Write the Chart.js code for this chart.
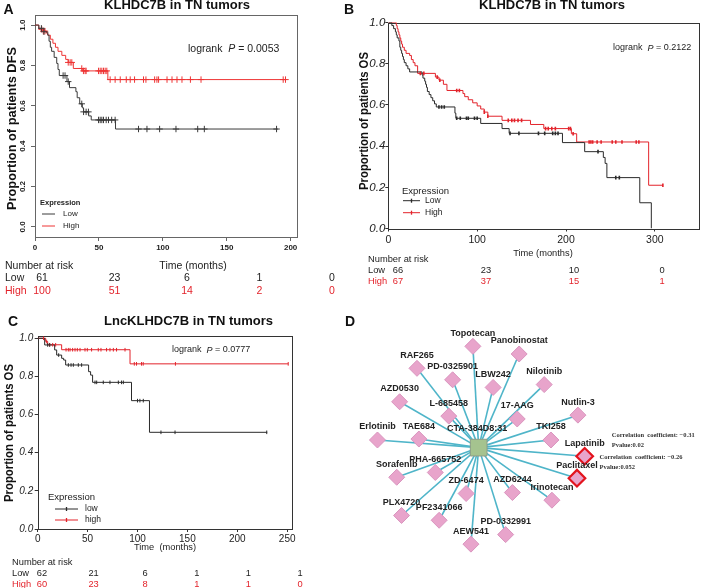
<!DOCTYPE html>
<html><head><meta charset="utf-8">
<script src="https://cdn.jsdelivr.net/npm/chart.js@4.4.1/dist/chart.umd.min.js"></script>
<style>
html,body{margin:0;padding:0;background:#fff;}
#wrap{position:relative;width:709px;height:588px;overflow:hidden;background:#fff;}
canvas{position:absolute;left:0;top:0;}
</style></head><body>
<div id="wrap">
<canvas id="cA" width="709" height="588"></canvas>
<canvas id="cB" width="709" height="588"></canvas>
<canvas id="cC" width="709" height="588"></canvas>
<canvas id="cD" width="709" height="588"></canvas>
</div>
<script>
// ================= DATA =================
// Panel A: KLHDC7B in TN tumors, DFS
const aLowTime  = [0, 3, 7, 10, 11, 12, 13, 15, 17, 18, 19, 25, 27, 32, 33, 35, 37, 38, 42, 44, 63, 190];
const aLowSurv  = [1, 0.984, 0.967, 0.95, 0.92, 0.89, 0.87, 0.84, 0.81, 0.78, 0.75, 0.72, 0.69, 0.67, 0.64, 0.61, 0.59, 0.57, 0.55, 0.53, 0.485, 0.485];
const aLowCens  = [5, 7, 22, 23.5, 26, 36.6, 38, 40, 41.8, 49.7, 51, 52.3, 53.6, 55.7, 57.5, 60, 62.7, 81, 87.6, 97.5, 110.3, 127.3, 132.5, 189];
const aHighTime = [0, 3, 6, 9, 10, 12, 14, 16, 18, 21, 24, 26, 30, 37, 57, 196];
const aHighSurv = [1, 0.98, 0.97, 0.96, 0.95, 0.93, 0.91, 0.89, 0.87, 0.85, 0.83, 0.815, 0.785, 0.773, 0.73, 0.73];
const aHighCens = [5.2, 6.5, 7.8, 26, 27.5, 28.8, 36.6, 37.9, 39.2, 40, 49.7, 51, 52.3, 53.6, 54.9, 56.2, 58.8, 62.7, 66.7, 71.4, 74.5, 77.9, 84.9, 86.8, 93.6, 95.4, 96.7, 103.3, 107.2, 111.1, 115, 121.6, 129.9, 194.2, 196];
const aXTicks = [0, 50, 100, 150, 200];
const aYTicks = [0, 0.2, 0.4, 0.6, 0.8, 1.0];
const aRiskLow  = [61, 23, 6, 1, 0];
const aRiskHigh = [100, 51, 14, 2, 0];
const aP = '0.0053';

// Panel B: KLHDC7B in TN tumors, OS
const bLowTime  = [0, 4, 6, 8, 9, 10, 12, 13, 14, 15, 16, 17, 18, 20, 22, 24, 38, 39, 41, 42, 43, 44, 46, 48, 50, 52, 54, 75, 76, 104, 128, 136, 196, 221, 242, 244, 246, 283, 296];
const bLowSurv  = [1, 0.985, 0.97, 0.955, 0.94, 0.925, 0.91, 0.88, 0.865, 0.85, 0.835, 0.82, 0.805, 0.79, 0.775, 0.76, 0.745, 0.73, 0.715, 0.70, 0.685, 0.665, 0.65, 0.635, 0.62, 0.605, 0.59, 0.56, 0.535, 0.51, 0.485, 0.462, 0.417, 0.373, 0.345, 0.316, 0.247, 0.125, 0];
const bLowCens  = [57, 60, 63, 77, 81, 88, 90, 97, 100, 137, 147, 169, 176, 185, 188, 191, 236, 256, 260];
const bHighTime = [0, 9, 10, 11, 12, 13, 14, 15, 16, 18, 20, 24, 26, 28, 30, 33, 53, 57, 62, 66, 84, 86, 90, 95, 100, 104, 108, 112, 128, 160, 175, 206, 212, 293, 309];
const bHighSurv = [1, 0.985, 0.97, 0.955, 0.94, 0.925, 0.91, 0.895, 0.88, 0.865, 0.85, 0.84, 0.82, 0.805, 0.79, 0.753, 0.735, 0.72, 0.70, 0.67, 0.655, 0.64, 0.625, 0.61, 0.595, 0.58, 0.565, 0.545, 0.525, 0.505, 0.485, 0.46, 0.42, 0.21, 0.21];
const bHighCens = [36, 40, 55, 58, 77, 80, 108, 112, 135, 139, 142, 146, 150, 177, 180, 184, 188, 203, 205, 208, 226, 228, 230, 235, 239.5, 252, 256, 263, 279, 282, 309];
const bXTicks = [0, 100, 200, 300];
const bYTicks = [0, 0.2, 0.4, 0.6, 0.8, 1.0];
const bRiskLow  = [66, 23, 10, 0];
const bRiskHigh = [67, 37, 15, 1];
const bP = '0.2122';

// Panel C: LncKLHDC7B in TN tumors, OS
const cLowTime  = [0, 7, 17, 19, 24, 26, 28, 51, 53, 55, 94, 112, 230];
const cLowSurv  = [1, 0.965, 0.939, 0.912, 0.895, 0.886, 0.86, 0.825, 0.807, 0.769, 0.673, 0.507, 0.507];
const cLowCens  = [10, 12, 21, 30.7, 33.4, 35.7, 40.7, 44, 57.4, 59.1, 65.7, 72.4, 80.8, 84, 85.8, 100, 102.4, 105.8, 123.5, 137.6, 229.5];
const cHighTime = [0, 8, 10, 24, 92.5, 251];
const cHighSurv = [1, 0.983, 0.966, 0.94, 0.866, 0.866];
const cHighCens = [5.8, 9, 12, 15, 18, 28.4, 30.7, 32.4, 35, 37.4, 39.7, 42.4, 47.4, 49.7, 54, 60.7, 63.4, 69, 72.4, 75.8, 79, 87.5, 96.8, 99, 104, 105.7, 138, 251];
const cXTicks = [0, 50, 100, 150, 200, 250];
const cYTicks = [0, 0.2, 0.4, 0.6, 0.8, 1.0];
const cRiskLow  = [62, 21, 6, 1, 1, 1];
const cRiskHigh = [60, 23, 8, 1, 1, 0];
const cP = '0.0777';

// Panel D: network (layout coordinates of each drug node, hub at origin)
const hubName = 'CTA-384D8:31';
const drugNames = ['Topotecan','Panobinostat','RAF265','PD-0325901','LBW242','Nilotinib','AZD0530','L-685458','17-AAG','Nutlin-3','Erlotinib','TAE684','TKI258','Lapatinib','Paclitaxel','Sorafenib','PHA-665752','ZD-6474','AZD6244','Irinotecan','PLX4720','PF2341066','PD-0332991','AEW541'];
const drugX = [-6, 42, -64, -27, 15, 68, -82, -31, 40, 103, -105, -62, 75, 110, 102, -85, -45, -13, 35, 76, -80, -41, 28, -8];
const drugY = [106, 98, 83, 71, 63, 66, 48, 33, 30, 34, 8, 9, 8, -9, -32, -31, -26, -48, -47, -55, -71, -76, -91, -101];
const highlightDrugs = ['Lapatinib', 'Paclitaxel'];
const corrCoef = ['\u22120.31', '\u22120.26'];
const corrP = ['0.02', '0.052'];

// ================= HELPERS =================
const FONT = "'Liberation Sans', Arial, Helvetica, sans-serif";
const RED = '#e3232b';
const BLK = '#2a2a2a';
const W = 709, H = 588;

function survAt(times, surv, t) {
  let s = surv[0];
  for (let i = 0; i < times.length; i++) if (times[i] <= t) s = surv[i];
  return s;
}
const pts = (times, surv) => times.map((t, i) => ({x: t, y: surv[i]}));
const censPts = (times, surv, cens) => cens.map(t => ({x: t, y: survAt(times, surv, t)}));

function text(ctx, s, x, y, font, color, align) {
  ctx.save();
  ctx.font = font; ctx.fillStyle = color || '#222';
  ctx.textAlign = align || 'left'; ctx.textBaseline = 'middle';
  ctx.fillText(s, x, y);
  ctx.restore();
}
function vtitle(ctx, s, cx, cy, font, len) {
  ctx.save();
  ctx.translate(cx, cy); ctx.rotate(-Math.PI / 2);
  ctx.font = font; ctx.fillStyle = '#111';
  const w = ctx.measureText(s).width;
  ctx.scale(len / w, 1);
  ctx.textAlign = 'center'; ctx.textBaseline = 'middle';
  ctx.fillText(s, 0, 0);
  ctx.restore();
}
function logrank(ctx, x, y, size, p) {
  ctx.save(); ctx.fillStyle = '#222'; ctx.textBaseline = 'middle'; ctx.textAlign = 'left';
  let cx = x;
  [['logrank  ', 'normal'], ['P', 'italic'], [' = ' + p, 'normal']].forEach(([s, st]) => {
    ctx.font = `${st} ${size}px ${FONT}`;
    ctx.fillText(s, cx, y);
    cx += ctx.measureText(s).width;
  });
  ctx.restore();
}
function riskTable(ctx, o) {
  const f = `${o.size}px ${FONT}`;
  text(ctx, 'Number at risk', o.x0, o.yHead, f, '#222');
  text(ctx, 'Low', o.x0, o.yLow, f, '#222');
  text(ctx, 'High', o.x0, o.yHigh, f, RED);
  o.low.forEach((n, i) => text(ctx, String(n), o.col0 + i * o.step, o.yLow, f, '#222', 'center'));
  o.high.forEach((n, i) => text(ctx, String(n), o.col0 + i * o.step, o.yHigh, f, RED, 'center'));
}
function kmLegend(ctx, o) {
  text(ctx, 'Expression', o.x, o.yHead, o.headFont, '#222');
  o.rows.forEach(r => {
    ctx.save();
    ctx.strokeStyle = r.color; ctx.lineWidth = 1;
    ctx.beginPath(); ctx.moveTo(o.x0, r.y); ctx.lineTo(o.x1, r.y); ctx.stroke();
    if (o.tick) {
      const m = (o.x0 + o.x1) / 2;
      ctx.lineWidth = 1.3;
      ctx.beginPath(); ctx.moveTo(m, r.y - 2); ctx.lineTo(m, r.y + 2); ctx.stroke();
    }
    ctx.restore();
    text(ctx, r.label, o.tx, r.y, o.font, '#222');
  });
}

function km(id, g) {
  const yW = 40, xH = 30;
  const datasets = [];
  g.series.forEach(s => {
    datasets.push({type: 'line', data: pts(s.time, s.surv), borderColor: s.color, borderWidth: g.lw || 1,
      pointRadius: 0, stepped: true, fill: false, tension: 0, order: 2});
    datasets.push({type: 'scatter', data: censPts(s.time, s.surv, s.cens), showLine: false,
      pointStyle: g.censStyle, pointRotation: g.censRot || 0, pointRadius: g.censR,
      pointBorderColor: s.color, pointBackgroundColor: s.color, pointBorderWidth: g.censW, order: 1});
  });
  const boxPlugin = {
    id: 'box' + id,
    beforeDatasetsDraw(ch) {
      const a = ch.chartArea, ctx = ch.ctx;
      ctx.save(); ctx.strokeStyle = g.boxColor; ctx.lineWidth = 1;
      ctx.strokeRect(Math.round(a.left) + 0.5, Math.round(a.top) + 0.5, Math.round(a.right - a.left), Math.round(a.bottom - a.top));
      ctx.restore();
    },
    afterDraw(ch) { g.decor(ch.ctx, ch); }
  };
  return new Chart(document.getElementById(id), {
    type: 'line',
    data: {datasets},
    options: {
      responsive: false, animation: false, events: [], devicePixelRatio: 1,
      layout: {padding: {left: g.L - yW, right: W - g.R, top: g.T, bottom: H - g.B - xH}},
      plugins: {legend: {display: false}, tooltip: {enabled: false}, title: {display: false}},
      scales: {
        x: {type: 'linear', min: g.xMin, max: g.xMax,
          afterFit: s => { s.height = xH; },
          afterBuildTicks: s => { s.ticks = g.xTicks.map(v => ({value: v})); },
          ticks: {display: true, font: g.xFont, color: '#222', padding: g.xPad, maxRotation: 0, minRotation: 0, autoSkip: false,
            callback: v => String(v)},
          grid: {drawOnChartArea: false, drawTicks: true, tickLength: g.tickLen, color: g.boxColor, lineWidth: 1},
          border: {display: false}},
        y: {type: 'linear', min: g.yMin, max: g.yMax,
          afterFit: s => { s.width = yW; },
          afterBuildTicks: s => { s.ticks = g.yTicks.map(v => ({value: v})); },
          ticks: {display: g.yTickDisplay, font: g.yFont, color: '#222', padding: g.yPad, autoSkip: false,
            callback: v => Number(v).toFixed(1)},
          grid: {drawOnChartArea: false, drawTicks: true, tickLength: g.tickLen, color: g.boxColor, lineWidth: 1},
          border: {display: false}}
      }
    },
    plugins: [boxPlugin]
  });
}

// ================= PANEL A =================
km('cA', {
  L: 35, R: 297, T: 15, B: 237, xMin: 0, xMax: 205, yMin: -0.05, yMax: 1.05,
  xTicks: aXTicks, yTicks: aYTicks, tickLen: 4, boxColor: '#666',
  xFont: {family: FONT, size: 8, weight: 'bold'}, xPad: 2,
  yFont: {family: FONT, size: 8, weight: 'bold'}, yPad: 2, yTickDisplay: false,
  censStyle: 'cross', censR: 3.2, censW: 1,
  series: [
    {time: aLowTime, surv: aLowSurv, cens: aLowCens, color: '#3a3a3a'},
    {time: aHighTime, surv: aHighSurv, cens: aHighCens, color: '#ee3535'}
  ],
  decor(ctx, ch) {
    text(ctx, 'A', 8.5, 10, `bold 14px ${FONT}`, '#111', 'center');
    text(ctx, 'KLHDC7B in TN tumors', 177, 5.5, `bold 13px ${FONT}`, '#111', 'center');
    vtitle(ctx, 'Proportion of patients DFS', 12, 128.5, `bold 13px ${FONT}`, 163);
    aYTicks.forEach(v => {
      const py = ch.scales.y.getPixelForValue(v);
      ctx.save(); ctx.translate(23, py); ctx.rotate(-Math.PI / 2);
      ctx.font = `bold 8px ${FONT}`; ctx.fillStyle = '#222'; ctx.textAlign = 'center'; ctx.textBaseline = 'middle';
      ctx.fillText(v.toFixed(1), 0, 0); ctx.restore();
    });
    logrank(ctx, 188, 49, 10.5, aP);
    kmLegend(ctx, {x: 40, yHead: 203, headFont: `bold 7.5px ${FONT}`, x0: 42, x1: 55, tx: 63, font: `8px ${FONT}`, tick: false,
      rows: [{label: 'Low', color: '#3a3a3a', y: 214}, {label: 'High', color: '#ee3535', y: 226}]});
    text(ctx, 'Time (months)', 193, 266, `10.5px ${FONT}`, '#222', 'center');
    riskTable(ctx, {x0: 5, yHead: 266, yLow: 278.5, yHigh: 291, col0: 42, step: 72.5, size: 10.5, low: aRiskLow, high: aRiskHigh});
  }
});

// ================= PANEL B =================
km('cB', {
  L: 388.3, R: 699.3, T: 22.5, B: 228.5, xMin: 0, xMax: 350, yMin: 0, yMax: 1,
  xTicks: bXTicks, yTicks: bYTicks, tickLen: 3, boxColor: '#333',
  xFont: {family: FONT, size: 10.5}, xPad: 2,
  yFont: {family: FONT, size: 11.5, style: 'italic'}, yPad: 0, yTickDisplay: true,
  censStyle: 'line', censRot: 90, censR: 1.8, censW: 1.6,
  series: [
    {time: bLowTime, surv: bLowSurv, cens: bLowCens, color: BLK},
    {time: bHighTime, surv: bHighSurv, cens: bHighCens, color: RED}
  ],
  decor(ctx, ch) {
    text(ctx, 'B', 349, 10, `bold 14px ${FONT}`, '#111', 'center');
    text(ctx, 'KLHDC7B in TN tumors', 552, 5.5, `bold 13px ${FONT}`, '#111', 'center');
    vtitle(ctx, 'Proportion of patients OS', 365, 121, `bold 12px ${FONT}`, 138);
    logrank(ctx, 613, 48, 9, bP);
    kmLegend(ctx, {x: 402, yHead: 191.5, headFont: `9.5px ${FONT}`, x0: 403, x1: 420, tx: 425, font: `8.5px ${FONT}`, tick: true,
      rows: [{label: 'Low', color: BLK, y: 200.7}, {label: 'High', color: RED, y: 212.7}]});
    text(ctx, 'Time (months)', 543, 253, `9.3px ${FONT}`, '#222', 'center');
    riskTable(ctx, {x0: 368, yHead: 259, yLow: 270, yHigh: 281, col0: 398, step: 88, size: 9.3, low: bRiskLow, high: bRiskHigh});
  }
});

// ================= PANEL C =================
km('cC', {
  L: 37.7, R: 291.7, T: 336, B: 529, xMin: 0, xMax: 254.5, yMin: 0, yMax: 1.012,
  xTicks: cXTicks, yTicks: cYTicks, tickLen: 3, boxColor: '#333',
  xFont: {family: FONT, size: 10}, xPad: 1.5,
  yFont: {family: FONT, size: 10, style: 'italic'}, yPad: 1.5, yTickDisplay: true,
  censStyle: 'line', censRot: 90, censR: 1.8, censW: 1,
  series: [
    {time: cLowTime, surv: cLowSurv, cens: cLowCens, color: BLK},
    {time: cHighTime, surv: cHighSurv, cens: cHighCens, color: RED}
  ],
  decor(ctx, ch) {
    text(ctx, 'C', 13, 322, `bold 14px ${FONT}`, '#111', 'center');
    text(ctx, 'LncKLHDC7B in TN tumors', 188.5, 321, `bold 13px ${FONT}`, '#111', 'center');
    vtitle(ctx, 'Proportion of patients OS', 10, 433, `bold 12px ${FONT}`, 138);
    logrank(ctx, 172, 350, 9, cP);
    kmLegend(ctx, {x: 48, yHead: 497, headFont: `9.5px ${FONT}`, x0: 55, x1: 78, tx: 85, font: `8.5px ${FONT}`, tick: true,
      rows: [{label: 'low', color: BLK, y: 509}, {label: 'high', color: RED, y: 520}]});
    text(ctx, 'Time  (months)', 165, 547, `9.3px ${FONT}`, '#222', 'center');
    riskTable(ctx, {x0: 12, yHead: 562, yLow: 573, yHigh: 584, col0: 42, step: 51.6, size: 9.3, low: cRiskLow, high: cRiskHigh});
  }
});

// ================= PANEL D =================
(function () {
  const edgeSets = drugNames.map((n, i) => ({
    type: 'line', data: [{x: 0, y: 0}, {x: drugX[i], y: drugY[i]}],
    borderColor: '#4fb5c9', borderWidth: 1.6, pointRadius: 0, fill: false, tension: 0, order: 3
  }));
  const normal = [], hi = [];
  drugNames.forEach((n, i) => (highlightDrugs.includes(n) ? hi : normal).push({x: drugX[i], y: drugY[i]}));
  const datasets = edgeSets.concat([
    {type: 'scatter', data: normal, pointStyle: 'rectRot', pointRadius: 8, pointBackgroundColor: '#e8a4cb',
      pointBorderColor: '#d994be', pointBorderWidth: 1, order: 2},
    {type: 'scatter', data: hi, pointStyle: 'rectRot', pointRadius: 8.3, pointBackgroundColor: '#e8a4cb',
      pointBorderColor: '#e3141e', pointBorderWidth: 2.2, order: 2},
    {type: 'scatter', data: [{x: 0, y: 0}], pointStyle: 'rect', pointRadius: 11.8, pointBackgroundColor: '#a5c38f',
      pointBorderColor: '#8e9c86', pointBorderWidth: 1, order: 1}
  ]);
  const labels = {
    id: 'netLabels',
    afterDatasetsDraw(ch) {
      const ctx = ch.ctx, sx = ch.scales.x, sy = ch.scales.y;
      text(ctx, 'D', 350, 322, `bold 14px ${FONT}`, '#111', 'center');
      drugNames.forEach((n, i) => {
        const px = sx.getPixelForValue(drugX[i]), py = sy.getPixelForValue(drugY[i]);
        text(ctx, n, px, py - 13, `bold 9px ${FONT}`, '#222', 'center');
      });
      text(ctx, hubName, sx.getPixelForValue(0) - 1.5, sy.getPixelForValue(0) - 19, `bold 9px ${FONT}`, '#222', 'center');
      const cf = `bold 6.5px 'Liberation Serif', 'DejaVu Serif', serif`;
      highlightDrugs.forEach((n, k) => {
        const i = drugNames.indexOf(n);
        const px = sx.getPixelForValue(drugX[i]), py = sy.getPixelForValue(drugY[i]);
        const dx = k === 0 ? 27 : 22.5;
        text(ctx, 'Correlation  coefficient: ' + corrCoef[k], px + dx, py - 21, cf, '#333', 'left');
        text(ctx, 'Pvalue:' + corrP[k], px + dx, py - 10.5, cf, '#333', 'left');
      });
    }
  };
  new Chart(document.getElementById('cD'), {
    type: 'scatter',
    data: {datasets},
    options: {
      responsive: false, animation: false, events: [], devicePixelRatio: 1,
      layout: {padding: {left: 355, top: 300, right: 0, bottom: 0}},
      plugins: {legend: {display: false}, tooltip: {enabled: false}},
      scales: {
        x: {type: 'linear', display: false, min: -128.3, max: 225.7},
        y: {type: 'linear', display: false, min: -133.5, max: 154.5}
      }
    },
    plugins: [labels]
  });
})();
</script>
</body></html>
